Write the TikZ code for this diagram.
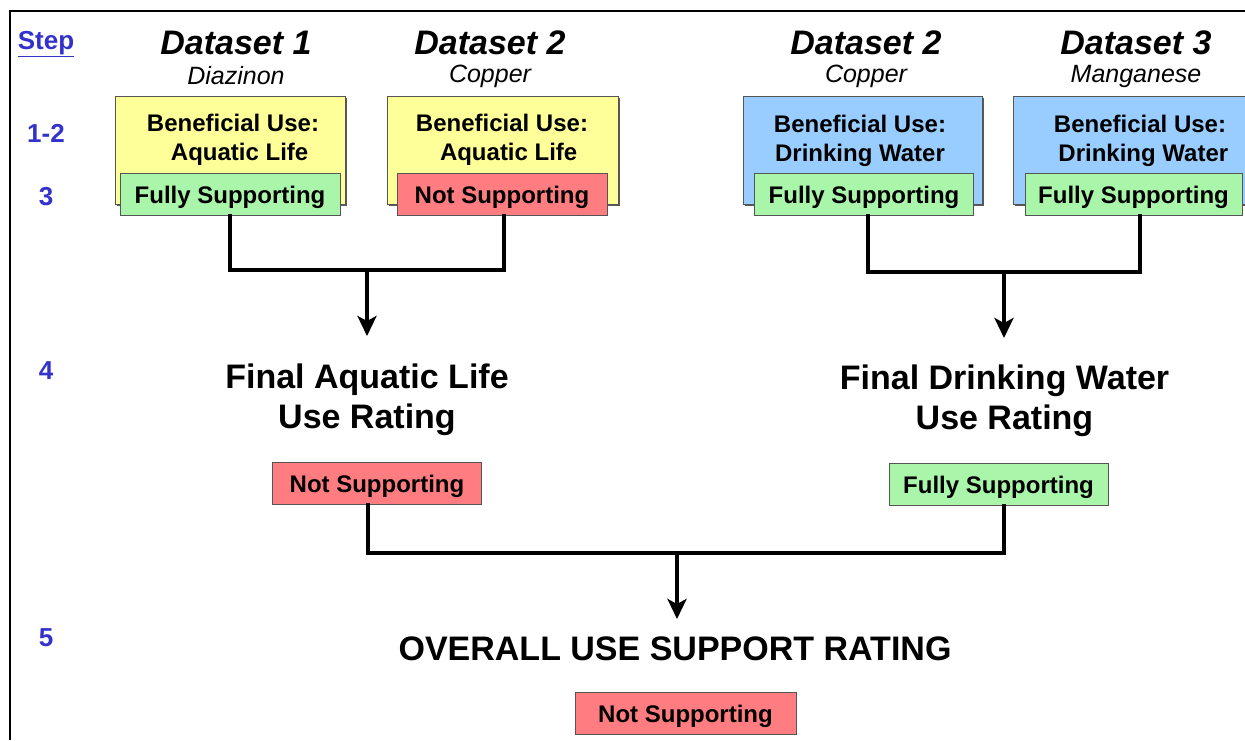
\documentclass[tikz,border=0pt]{standalone}
\usepackage{fontspec}
\setmainfont{Liberation Sans}
\usetikzlibrary{arrows.meta,shadows}
\definecolor{yel}{HTML}{FFFF99}
\definecolor{blu}{HTML}{99CCFF}
\definecolor{grn}{HTML}{A9F5A9}
\definecolor{rd}{HTML}{FF7C80}
\definecolor{stepblue}{HTML}{3333CC}
\definecolor{edge}{HTML}{555555}
\begin{document}
\begin{tikzpicture}[x=1pt,y=-1pt,
  usebox/.style={draw=edge, line width=1pt, minimum width=#1, minimum height=108pt, inner sep=0pt,
    drop shadow={shadow xshift=1.5pt, shadow yshift=-1.5pt, fill=black!65, opacity=1}},
  ratebox/.style={draw=edge, line width=1pt, minimum width=#1, minimum height=42pt, inner sep=0pt,
    text height=17.2pt, text depth=0pt, font=\fontsize{24}{28}\selectfont\bfseries},
  boxtext/.style={align=center, inner sep=0pt, font=\fontsize{24}{29}\selectfont\bfseries},
  steplabel/.style={text=stepblue, inner sep=0pt, font=\fontsize{26}{30}\selectfont\bfseries},
  dshead/.style={inner sep=0pt, font=\fontsize{34}{40}\selectfont\bfseries\itshape},
  dssub/.style={inner sep=0pt, font=\fontsize{25}{30}\selectfont\itshape},
  bigtext/.style={align=center, inner sep=0pt, font=\fontsize{34}{40}\selectfont\bfseries},
  conn/.style={line width=4pt, line join=miter, line cap=rect},
  arr/.style={line width=4pt, -{Stealth[length=20pt, width=19pt, inset=5pt]}}
]
\useasboundingbox (0,0) rectangle (1245,740);
\fill[white] (0,0) rectangle (1245,740);
% frame
\draw[line width=2.5pt] (10,740) -- (10,11) -- (1245,11);

% step labels
\node[steplabel] (sStep) at (46,44) {\underline{Step}};
\node[steplabel] (s12) at (46,133) {1-2};
\node[steplabel] (s3) at (46,197) {3};
\node[steplabel] (s4) at (46,371) {4};
\node[steplabel] (s5) at (46,638) {5};

% dataset headers
\node[dshead] (h1) at (236,43) {Dataset 1};
\node[dssub] (d1) at (236,76) {Diazinon};
\node[dshead] (h2) at (490,43) {Dataset 2};
\node[dssub] (d2) at (490,76) {Copper};
\node[dshead] (h3) at (866,43) {Dataset 2};
\node[dssub] (d3) at (866,76) {Copper};
\node[dshead] (h4) at (1136,43) {Dataset 3};
\node[dssub] (d4) at (1136,76) {Manganese};

% beneficial use boxes
\node[usebox=230pt, fill=yel] (u1) at (230,150.5) {};
\node[boxtext] (ut1) at (233,139.5) {Beneficial Use:\\\ \ Aquatic Life};
\node[usebox=231pt, fill=yel] (u2) at (502.5,150.5) {};
\node[boxtext] (ut2) at (502,139.5) {Beneficial Use:\\\ \ Aquatic Life};
\node[usebox=239pt, fill=blu] (u3) at (862.5,150) {};
\node[boxtext] (ut3) at (860,140.5) {Beneficial Use:\\Drinking Water};
\node[usebox=239pt, fill=blu] (u4) at (1132.5,150) {};
\node[boxtext] (ut4) at (1140,140.5) {Beneficial Use:\\\ Drinking Water};

% step 3 ratings
\node[ratebox=220pt, fill=grn] (g1) at (230,194.5) {Fully Supporting};
\node[ratebox=210pt, fill=rd] (r2) at (502,194.5) {Not Supporting};
\node[ratebox=219pt, fill=grn] (g3) at (864,194.5) {Fully Supporting};
\node[ratebox=217pt, fill=grn] (g4) at (1133.5,194.5) {Fully Supporting};

% junctions
\coordinate (j1) at (367,270);
\coordinate (t1) at (367,336);
\coordinate (j2) at (1004,272);
\coordinate (t2) at (1004,338);

\draw[conn] (g1.south) |- (j1) -| ([xshift=2pt]r2.south);
\draw[arr] (j1) -- (t1);
\draw[conn] ([xshift=4pt]g3.south) |- (j2) -| ([xshift=6pt]g4.south);
\draw[arr] (j2) -- (t2);

% step 4
\node[bigtext] (fa) at (367,400) {Final Aquatic Life\\Use Rating};
\node[bigtext] (fd) at (1004.5,401) {Final Drinking Water\\Use Rating};
\node[ratebox=209pt, fill=rd] (rA) at (377,483.5) {Not Supporting};
\node[ratebox=219pt, fill=grn] (gD) at (998.5,484.5) {Fully Supporting};

\coordinate (j3) at (677,553);
\coordinate (t3) at (677,619);
\draw[conn] ([xshift=-9pt]rA.south) |- (j3) -| ([xshift=5.5pt]gD.south);
\draw[arr] (j3) -- (t3);

% step 5
\node[bigtext] (ov) at (675,649) {OVERALL USE SUPPORT RATING};
\node[ratebox=221pt, fill=rd] (rO) at (685.5,713.5) {Not Supporting};
\end{tikzpicture}
\end{document}
